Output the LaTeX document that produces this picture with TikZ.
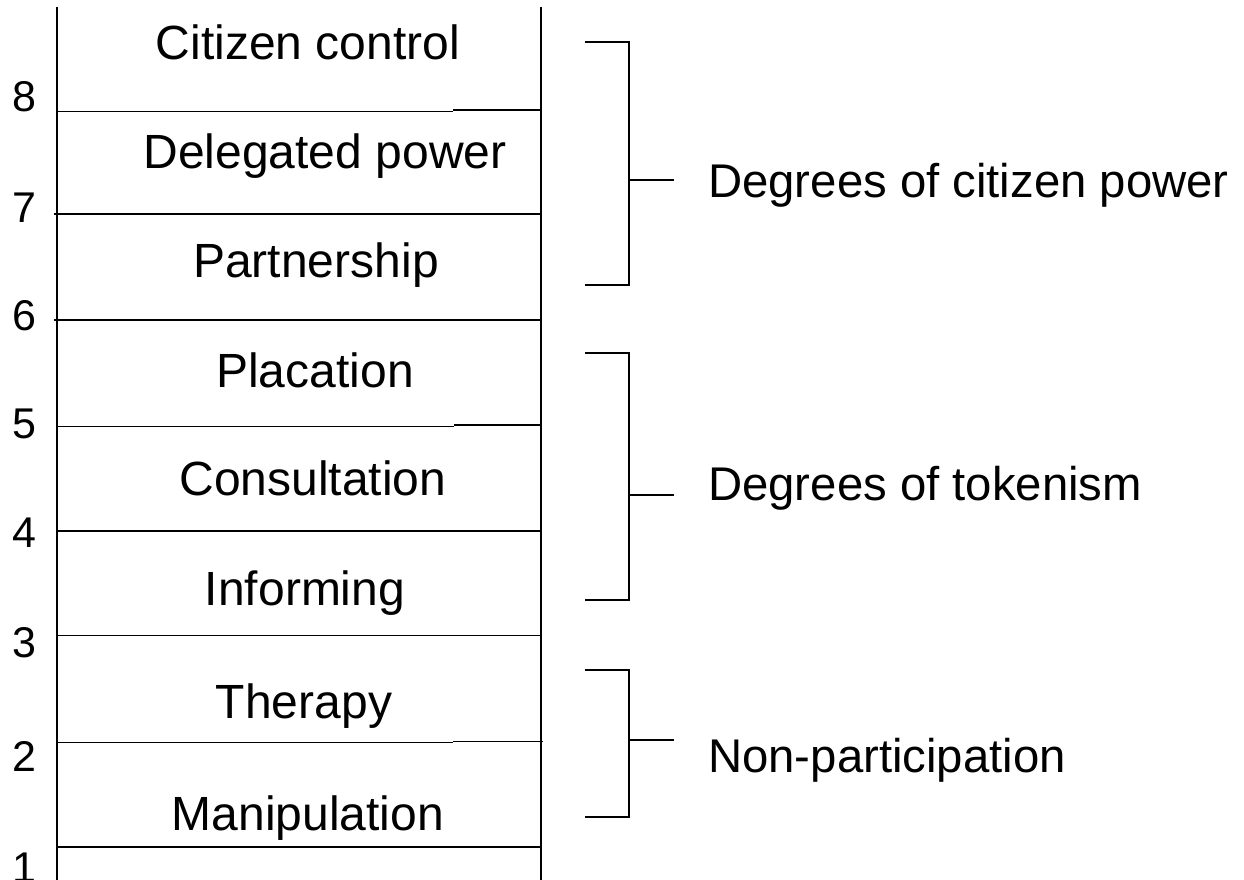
\documentclass[tikz,border=0pt]{standalone}
\usepackage{fontspec}
\setmainfont{Liberation Sans}
\begin{document}
\begin{tikzpicture}[x=1pt,y=-1pt,
  rail/.style={line width=1.9pt},
  rung/.style={line width=1.5pt},
  brk/.style={line width=1.3pt},
  lbl/.style={inner sep=0pt,anchor=base,font=\fontsize{48}{56}\selectfont},
  num/.style={inner sep=0pt,anchor=base,font=\fontsize{43}{50}\selectfont},
  grp/.style={inner sep=0pt,anchor=base west,font=\fontsize{47.3}{56}\selectfont}]
\useasboundingbox (0,0) rectangle (1244,880);
% rails
\draw[rail] (57,7) -- (57,880);
\draw[rail] (541,7) -- (541,880);
% rungs
\draw[rung] (57,111.5) -- (453,111.5);
\draw[rung] (453,110) -- (541,110);
\draw[rung] (54,214) -- (541,214);
\draw[rung] (54,320) -- (541,320);
\draw[rung] (57,426.5) -- (454,426.5);
\draw[rung] (454,425) -- (541,425);
\draw[rung] (57,531) -- (541,531);
\draw[rung] (57,635.5) -- (541,635.5);
\draw[rung] (57,742.5) -- (453,742.5);
\draw[rung] (453,741.5) -- (543,741.5);
\draw[rung] (57,847) -- (541,847);
% ladder labels
\node[lbl] (l8) at (308,60) {Citizen control};
\node[lbl] (l7) at (325,168) {Delegated power};
\node[lbl] (l6) at (316,277) {Partnership};
\node[lbl] (l5) at (315,387) {Placation};
\node[lbl] (l4) at (313,495) {Consultation};
\node[lbl] (l3) at (305,605) {Informing};
\node[lbl] (l2) at (304,718) {Therapy};
\node[lbl] (l1) at (308,830) {Manipulation};
% numbers
\node[num] (n8) at (24,112) {8};
\node[num] (n7) at (24,222) {7};
\node[num] (n6) at (24,330) {6};
\node[num] (n5) at (24,438) {5};
\node[num] (n4) at (24,547) {4};
\node[num] (n3) at (24,657) {3};
\node[num] (n2) at (24,771) {2};
\node[num] (n1) at (24,882) {1};
% brackets
\draw[brk] (585,42) -- (629,42) -- (629,285) -- (585,285);
\draw[brk] (629,180) -- (674,180);
\draw[brk] (585,353) -- (629,353) -- (629,600) -- (585,600);
\draw[brk] (629,495) -- (674,495);
\draw[brk] (585,670) -- (629,670) -- (629,817) -- (585,817);
\draw[brk] (629,740) -- (674,740);
% group labels
\node[grp] (g1) at (708,197) {Degrees of citizen power};
\node[grp] (g2) at (708,500) {Degrees of tokenism};
\node[grp] (g3) at (708,772) {Non-participation};
\end{tikzpicture}
\end{document}
